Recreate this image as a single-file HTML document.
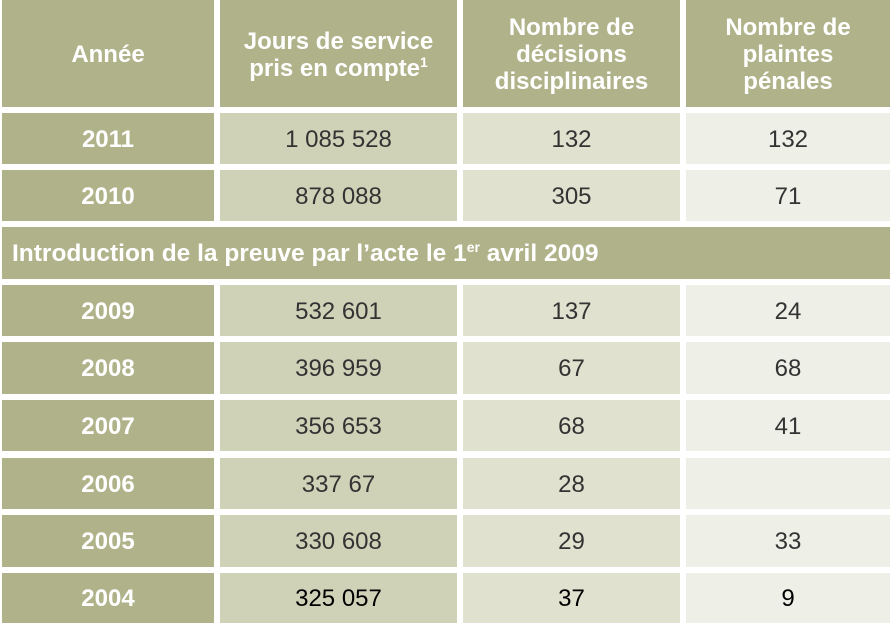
<!DOCTYPE html>
<html><head><meta charset="utf-8"><style>
body{margin:0;width:891px;height:623px;background:#fff;overflow:hidden;font-family:"Liberation Sans",Arial,sans-serif;position:relative}
.c{position:absolute;display:flex;align-items:center;justify-content:center;text-align:center;font-size:24px;color:#333;box-sizing:border-box;padding-top:2px}
.h{background:#b0b38a;color:#fff;font-weight:bold;line-height:27px}
.y{background:#b0b38a;color:#fff;font-weight:bold}
.a{background:#d0d2b8}.b{background:#e0e1cf}.d{background:#eeefe7}
sup{font-size:14px;line-height:0;vertical-align:9px}
</style></head><body>
<div class="c h" style="left:2px;top:0;width:212px;height:107px"><span>Année</span></div>
<div class="c h" style="left:220px;top:0;width:237px;height:107px"><span>Jours de service<br>pris en compte<sup>1</sup></span></div>
<div class="c h" style="left:463px;top:0;width:217px;height:107px"><span>Nombre de<br>décisions<br>disciplinaires</span></div>
<div class="c h" style="left:686px;top:0;width:204px;height:107px"><span>Nombre de<br>plaintes<br>pénales</span></div>
<div class="c y" style="left:2px;top:227px;width:888px;height:52px;justify-content:flex-start;padding-left:10px;font-size:24.5px"><span>Introduction de la preuve par l’acte le 1<sup>er</sup> avril 2009</span></div>
<div id="rows"></div>
<script>
var r=[[113,51,"2011","1 085 528","132","132"],[170,51,"2010","878 088","305","71"],[285,51,"2009","532 601","137","24"],[342,52,"2008","396 959","67","68"],[400,51,"2007","356 653","68","41"],[458,51,"2006","337 67","28",""],[515,52,"2005","330 608","29","33"],[573,50,"2004","325 057","37","9"]];
var h="";r.forEach(function(x,i){var col=i==7?"color:#000;":"";
h+='<div class="c y" style="left:2px;top:'+x[0]+'px;width:212px;height:'+x[1]+'px">'+x[2]+'</div>';
h+='<div class="c a" style="'+col+'left:220px;top:'+x[0]+'px;width:237px;height:'+x[1]+'px">'+x[3]+'</div>';
h+='<div class="c b" style="'+col+'left:463px;top:'+x[0]+'px;width:217px;height:'+x[1]+'px">'+x[4]+'</div>';
h+='<div class="c d" style="'+col+'left:686px;top:'+x[0]+'px;width:204px;height:'+x[1]+'px">'+x[5]+'</div>';});
document.getElementById("rows").innerHTML=h;
</script>
</body></html>
